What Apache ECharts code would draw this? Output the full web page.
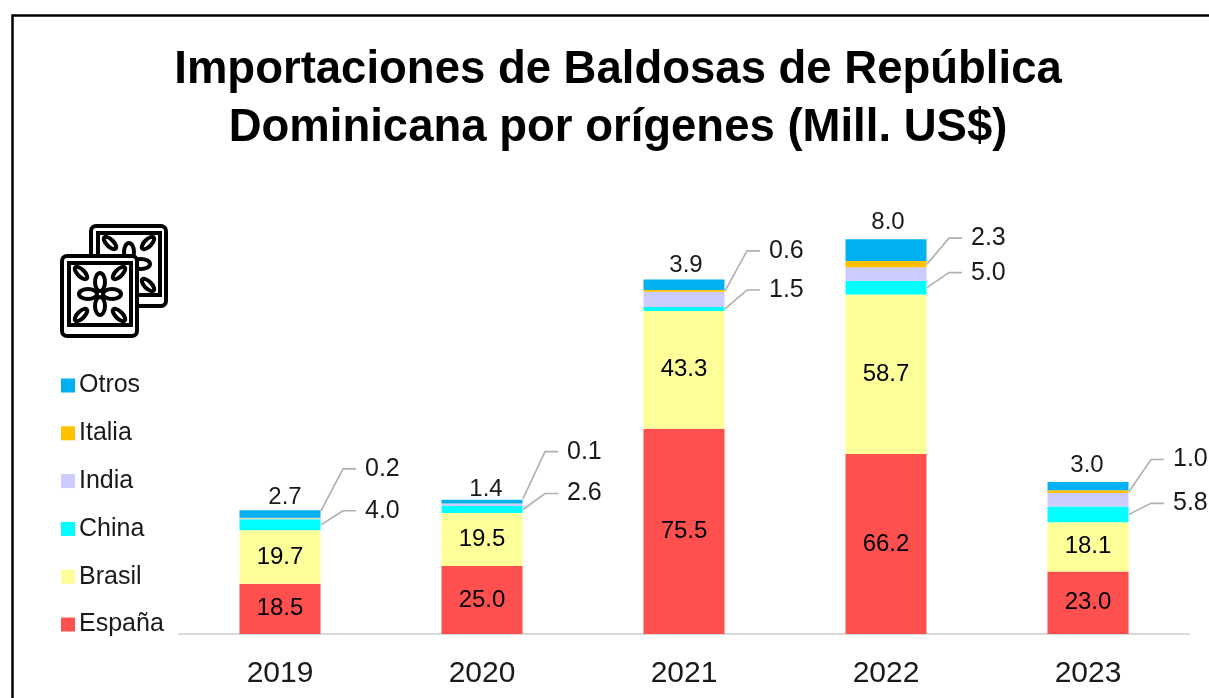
<!DOCTYPE html>
<html>
<head>
<meta charset="utf-8">
<title>Importaciones de Baldosas</title>
<script src="https://cdn.jsdelivr.net/npm/echarts@6/dist/echarts.min.js"></script>
<style>
html, body { margin: 0; padding: 0; background: #fff; }
#chart { width: 1209px; height: 698px; }
</style>
</head>
<body>
<div id="chart"></div>
<script>
const years = ['2019', '2020', '2021', '2022', '2023']
const espana = [18.5, 25.0, 75.5, 66.2, 23.0]
const brasil = [19.7, 19.5, 43.3, 58.7, 18.1]
const china = [4.0, 2.6, 1.5, 5.0, 5.8]
const india = [0.4, 0.8, 5.6, 5.0, 5.0]
const italia = [0.2, 0.1, 0.6, 2.3, 1.0]
const otros = [2.7, 1.4, 3.9, 8.0, 3.0]

// leader lines: rise of the elbow above the start point, in px
const italiaRise = [42, 47, 40, 26, 32]
const chinaRise = [14, 16, 19, 15, 11]
// start point lifted above the middle of the band, in px
const italiaLift = [7, 5, 0, 0, 0]
const chinaLift = [0, 0, 0, 0, 0]
// nudge of the Otros labels, in px
const otrosShift = [[5, 1], [4, 4], [2, 0], [2, -3], [-1, -3]]

const font = '"Liberation Sans", Arial, sans-serif'
const chart = echarts.init(document.getElementById('chart'))

function barSeries(name, data, color, label) {
  return { name, type: 'bar', stack: 'total', data, barWidth: 81, itemStyle: { color }, label, emphasis: { disabled: true } }
}

function leaderSeries(values, rises, lifts, base) {
  return {
    type: 'custom',
    silent: true,
    z: 5,
    data: values.map((v, i) => [i, base[i] + v / 2, v, rises[i], lifts[i]]),
    encode: { x: 0, y: 1 },
    renderItem(params, api) {
      const p = api.coord([api.value(0), api.value(1)])
      const sx = p[0] + 41
      const sy = p[1] - api.value(4)
      const ex = sx + 22
      const ey = sy - api.value(3)
      return {
        type: 'group',
        children: [
          { type: 'polyline', shape: { points: [[sx, sy], [ex, ey], [ex + 13, ey]] }, style: { stroke: '#b0b0b0', lineWidth: 1.6, fill: null } },
          { type: 'text', style: { x: ex + 22, y: ey, text: api.value(2).toFixed(1), fill: '#1a1a1a', font: '25px ' + font, align: 'left', verticalAlign: 'middle' } }
        ]
      }
    }
  }
}

const fmt = p => Number(p.value).toFixed(1)
const inside = { show: true, position: 'inside', color: '#000', fontSize: 24, fontFamily: font, formatter: fmt }
const onTop = { show: true, position: 'top', distance: 2, color: '#1a1a1a', fontSize: 24, fontFamily: font, formatter: fmt }

const otrosData = otros.map((v, i) => ({ value: v, label: { offset: otrosShift[i] } }))
const belowChina = espana.map((v, i) => v + brasil[i])
const belowItalia = belowChina.map((v, i) => v + china[i] + india[i])

// azulejo icon, decoration only
function tile(x, y) {
  const cx = x + 40, cy = y + 40
  const petal = (dx, dy, rx, ry, rot) => ({
    type: 'ellipse',
    shape: { cx: 0, cy: 0, rx, ry },
    x: cx + dx, y: cy + dy, rotation: rot, originX: 0, originY: 0,
    style: { fill: '#fff', stroke: '#000', lineWidth: 4 }
  })
  return [
    { type: 'rect', shape: { x: x + 2, y: y + 2, width: 75, height: 80, r: 5 }, style: { fill: '#fff', stroke: '#000', lineWidth: 4 } },
    { type: 'rect', shape: { x: x + 9, y: y + 9, width: 62, height: 62 }, style: { fill: '#fff', stroke: '#000', lineWidth: 4 } },
    petal(0, -12, 5, 9, 0), petal(0, 12, 5, 9, 0), petal(-12, 0, 9, 5, 0), petal(12, 0, 9, 5, 0),
    petal(-19, -21, 8, 3.5, -Math.PI / 4), petal(19, -21, 8, 3.5, Math.PI / 4),
    petal(-19, 21, 8, 3.5, Math.PI / 4), petal(19, 21, 8, 3.5, -Math.PI / 4)
  ]
}

chart.setOption({
  animation: false,
  backgroundColor: '#fff',
  title: {
    text: 'Importaciones de Baldosas de República\nDominicana por orígenes (Mill. US$)',
    left: 613, top: 36, textAlign: 'center',
    textStyle: { fontFamily: font, fontSize: 45.5, fontWeight: 'bold', color: '#000', lineHeight: 58 }
  },
  legend: {
    orient: 'vertical', left: 56, top: 368,
    itemWidth: 14, itemHeight: 14, itemGap: 22.8, icon: 'rect', selectedMode: false,
    data: ['Otros', 'Italia', 'India', 'China', 'Brasil', 'España'],
    textStyle: { fontFamily: font, fontSize: 25, lineHeight: 23, color: '#1a1a1a', padding: [0, 0, 0, -1] }
  },
  grid: { left: 179, right: 20, top: 199, height: 435 },
  xAxis: {
    type: 'category', data: years,
    axisLine: { lineStyle: { color: '#d9d9d9', width: 2 } },
    axisTick: { show: false },
    axisLabel: { fontFamily: font, fontSize: 30, color: '#1a1a1a', margin: 25 }
  },
  yAxis: { type: 'value', min: 0, max: 160, show: false, splitLine: { show: false } },
  series: [
    barSeries('España', espana, '#ff5050', inside),
    barSeries('Brasil', brasil, '#ffff99', inside),
    barSeries('China', china, '#00ffff'),
    barSeries('India', india, '#ccccff'),
    barSeries('Italia', italia, '#ffc000'),
    barSeries('Otros', otrosData, '#00b0f0', onTop),
    leaderSeries(china, chinaRise, chinaLift, belowChina),
    leaderSeries(italia, italiaRise, italiaLift, belowItalia)
  ],
  graphic: [
    { type: 'rect', silent: true, shape: { x: 12.5, y: 15.5, width: 1400, height: 900 }, style: { fill: 'none', stroke: '#000', lineWidth: 2.5 } },
    { type: 'group', silent: true, children: tile(89, 224).concat(tile(60, 254)) }
  ]
})
</script>
</body>
</html>
